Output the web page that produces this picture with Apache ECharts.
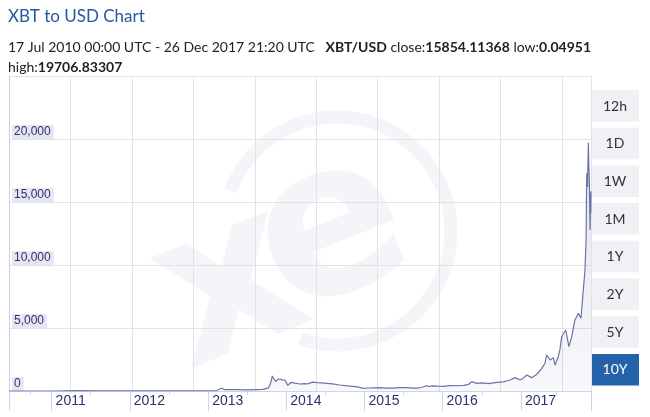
<!DOCTYPE html>
<html>
<head>
<meta charset="utf-8">
<script src="https://cdn.jsdelivr.net/npm/echarts@6/dist/echarts.min.js"></script>
<style>
html,body{margin:0;padding:0;background:#fff;}
#chart{width:650px;height:417px;}
</style>
</head>
<body>
<div id="chart"></div>
<script>
// ---- data (dates) ----
const dates = [
 '2010-06-16','2010-10-01','2011-01-10','2011-05-05','2011-08-01','2011-11-01',
 '2012-03-01','2012-07-01','2012-10-01',
 '2013-01-01','2013-02-10','2013-03-04','2013-03-20','2013-05-01','2013-07-01','2013-08-15','2013-09-13',
 '2013-10-10','2013-10-20','2013-10-28','2013-11-06','2013-11-13','2013-11-22','2013-12-02','2013-12-12','2013-12-25',
 '2014-01-08','2014-01-16','2014-01-25','2014-02-10','2014-03-05','2014-03-25','2014-04-10','2014-05-05','2014-05-25',
 '2014-06-15','2014-07-08','2014-08-05','2014-09-08','2014-10-05','2014-11-08','2014-12-01','2014-12-25',
 '2015-01-20','2015-02-15','2015-03-14','2015-04-15','2015-05-15','2015-06-15','2015-07-15','2015-08-15',
 '2015-09-10','2015-10-01','2015-10-18','2015-11-01','2015-11-17','2015-12-10',
 '2016-01-05','2016-02-04','2016-03-10','2016-04-10','2016-05-01','2016-05-16','2016-06-08','2016-07-05',
 '2016-08-01','2016-09-10','2016-10-10','2016-11-11','2016-12-04','2016-12-28',
 '2017-01-10','2017-01-28','2017-02-20','2017-03-16','2017-04-08','2017-04-23','2017-05-01','2017-05-17',
 '2017-06-01','2017-06-09','2017-06-24','2017-07-02','2017-07-10','2017-07-29','2017-08-13','2017-08-26',
 '2017-09-10','2017-09-26','2017-10-08','2017-10-19','2017-10-27','2017-11-01','2017-11-04','2017-11-08',
 '2017-11-09','2017-11-12','2017-11-14','2017-11-16','2017-11-19','2017-11-20','2017-11-22','2017-11-23','2017-11-24'
];
const prices = [
 0.05,0.1,0.3,25,10,3,
 5,7,11,
 13,35,215,110,120,90,115,130,
 250,650,1190,900,740,920,950,880,870,
 450,600,690,620,555,590,560,700,660,
 640,610,560,476,420,370,330,214,
 240,255,260,235,235,260,270,225,
 235,320,420,360,400,380,
 370,420,415,440,530,740,610,640,
 580,690,730,870,1060,870,
 1000,1270,1060,1330,1800,2200,2860,2460,
 2650,2060,2720,3300,4310,4840,3520,4310,
 5640,6170,5770,8020,9600,11990,17280,16200,
 17550,19707,17800,17020,13500,12780,15700,14130,15854
];
const yTicks = [0, 5000, 10000, 15000, 20000];
const ranges = ['12h','1D','1W','1M','1Y','2Y','5Y','10Y'];
const activeRange = '10Y';
const titleText = 'XBT to USD Chart';
const infoLine1 = '17 Jul 2010 00:00 UTC - 26 Dec 2017 21:20 UTC   {b|XBT/USD} close:{b|15854.11368} low:{b|0.04951}';
const infoLine2 = 'high:{b|19706.83307}';

const seriesData = dates.map((d, i) => [d, prices[i]]);

const chart = echarts.init(document.getElementById('chart'), null, {renderer: 'canvas'});

const wm = '#f5f5f9';
const graphics = [
  // watermark
  {type: 'arc', z: -10, silent: true,
   shape: {cx: 337, cy: 231, r: 114, startAngle: -2.78, endAngle: 1.9, clockwise: true},
   style: {stroke: wm, lineWidth: 13, fill: null}},
  {type: 'text', z: -10, silent: true, x: 333, y: 236, rotation: 0.38,
   style: {text: 'e', font: 'bold 215px "DejaVu Sans"', fill: wm, align: 'center', verticalAlign: 'middle'}},
  {type: 'text', z: -10, silent: true, x: 232, y: 292, rotation: 0.38,
   style: {text: 'x', font: 'bold 215px "DejaVu Sans"', fill: wm, align: 'center', verticalAlign: 'middle'}},
  // title & info
  {type: 'text', x: 8, y: 17,
   style: {text: titleText, font: '17px Lato', fill: '#2657a6', verticalAlign: 'middle'}},
  {type: 'text', x: 8, y: 47,
   style: {text: infoLine1, fontFamily: 'Lato', fontSize: 14, fill: '#222',
           verticalAlign: 'middle', rich: {b: {fontWeight: 'bold', fontFamily: 'Lato', fontSize: 14}}}},
  {type: 'text', x: 8, y: 67,
   style: {text: infoLine2, fontFamily: 'Lato', fontSize: 14, fill: '#222',
           verticalAlign: 'middle', rich: {b: {fontWeight: 'bold', fontFamily: 'Lato', fontSize: 14}}}}
];
ranges.forEach((r, i) => {
  const y = 90 + i * 37.7;
  const active = r === activeRange;
  graphics.push({type: 'rect', shape: {x: 591, y: y, width: 48, height: 31.5},
    style: {fill: active ? '#2463a9' : '#f0f0f5'}});
  graphics.push({type: 'text', x: 615, y: y + 16,
    style: {text: r, font: '14px Lato', fill: active ? '#fff' : '#333', align: 'center', verticalAlign: 'middle'}});
});

chart.setOption({
  animation: false,
  backgroundColor: '#fff',
  graphic: graphics,
  grid: {left: 9, right: 59, top: 76, bottom: 26, containLabel: false},
  xAxis: [
    {type: 'time', min: dates[0], max: dates[dates.length - 1],
     minInterval: 365 * 864e5, maxInterval: 366 * 864e5,
     axisLine: {show: true, lineStyle: {color: '#ccd6eb', width: 1}},
     axisTick: {show: true, length: 20, lineStyle: {color: '#ccd6eb'}},
     minorTick: {show: true, splitNumber: 2, length: 4, lineStyle: {color: '#ccd6eb'}},
     splitLine: {show: false},
     axisLabel: {formatter: '{yyyy}', align: 'left', padding: [0, 0, 0, 4], margin: 3,
                 color: '#2c3170', fontSize: 14, fontFamily: 'Arial', fontWeight: 'normal'}},
    {type: 'value', min: 0, max: 9.47, interval: 1, position: 'top',
     axisLine: {show: false}, axisTick: {show: false}, axisLabel: {show: false},
     splitLine: {show: true, lineStyle: {color: '#e3e3e3'}}}
  ],
  yAxis: {type: 'value', min: 0, max: 25000, interval: 5000,
    axisLine: {show: true, lineStyle: {color: '#c9cee2'}},
    axisTick: {show: false},
    splitLine: {show: true, lineStyle: {color: '#e3e3e3'}},
    axisLabel: {inside: true, showMaxLabel: false, verticalAlign: 'bottom', margin: 3,
      color: '#2c3170', fontSize: 12, fontFamily: 'Arial', backgroundColor: '#e6e6f0',
      padding: [1, 3, 1, 2],
      formatter: v => yTicks.indexOf(v) >= 0 ? v.toLocaleString('en-US') : ''}
  },
  series: [{
    type: 'line', xAxisIndex: 0, data: seriesData, showSymbol: false, symbol: 'none',
    lineStyle: {color: '#6b73a9', width: 1.2},
    areaStyle: {color: new echarts.graphic.LinearGradient(0, 0, 0, 1, [
      {offset: 0, color: 'rgba(110,118,175,0.28)'},
      {offset: 1, color: 'rgba(110,118,175,0.07)'}
    ])},
    z: 3
  }]
});
</script>
</body>
</html>
